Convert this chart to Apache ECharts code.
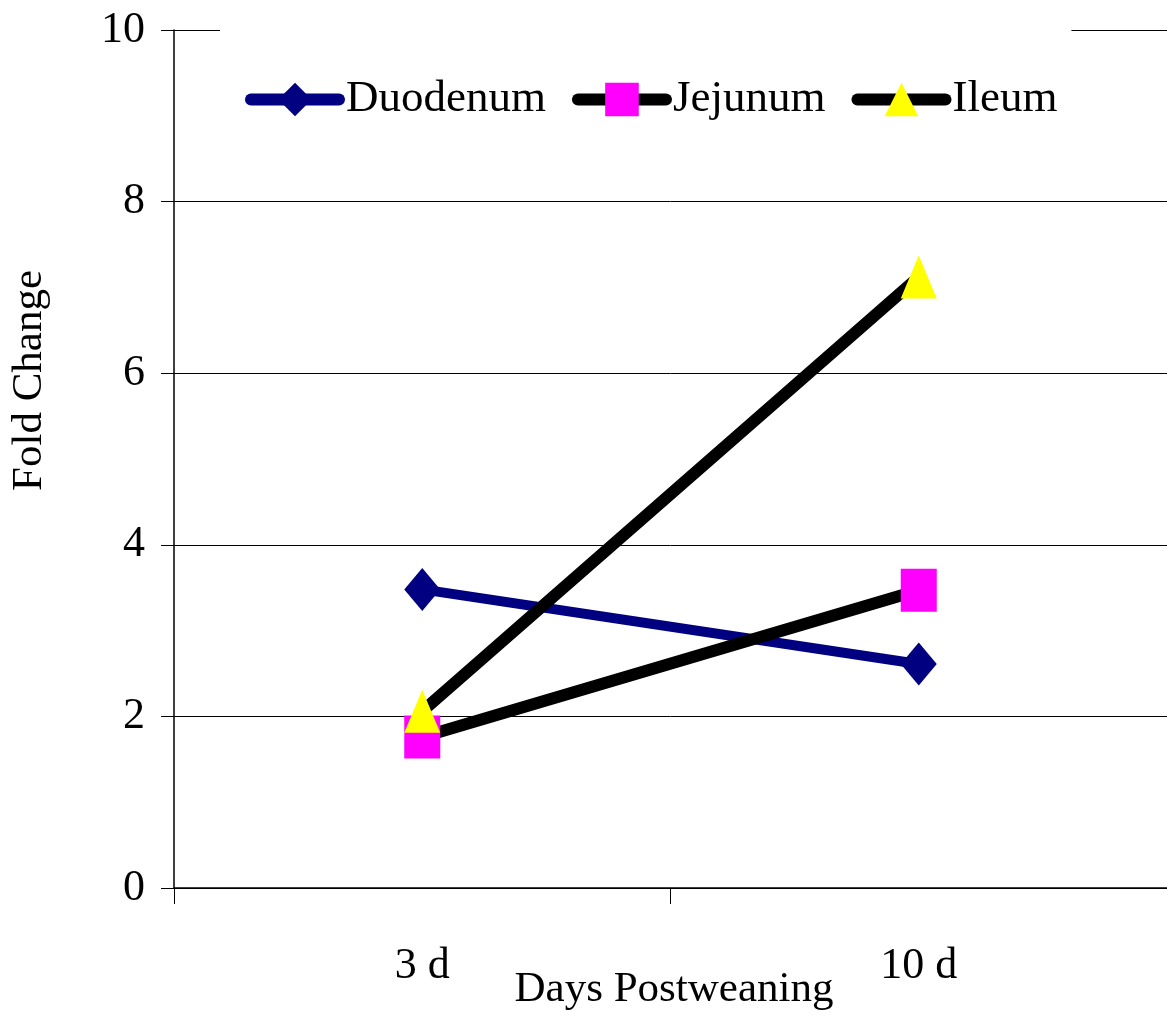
<!DOCTYPE html>
<html>
<head>
<meta charset="utf-8">
<script src="https://cdn.jsdelivr.net/npm/echarts@6/dist/echarts.min.js"></script>
<style>
html,body{margin:0;padding:0;background:#fff;}
#chart{width:1167px;height:1017px;}
</style>
</head>
<body>
<div id="chart"></div>
<script>
const categories = ['3 d', '10 d'];
const duodenum = [3.48, 2.61];
const jejunum = [1.76, 3.47];
const ileum = [2.06, 7.12];
const yTicks = [0, 2, 4, 6, 8, 10];
const xAxisName = 'Days Postweaning';
const yAxisName = 'Fold Change';

const FONT = '"Liberation Serif", "Times New Roman", serif';
const chart = echarts.init(document.getElementById('chart'));
chart.setOption({
  backgroundColor: '#fff',
  animation: false,
  grid: { left: 174, right: 0, top: 30, bottom: 129, containLabel: false, outerBoundsMode: 'none' },
  legend: {
    left: 220, top: 20,
    padding: [57, 14, 20, 25],
    backgroundColor: '#fff',
    itemWidth: 88, itemHeight: 42, itemGap: 26,
    lineStyle: { width: 12, cap: 'round' },
    textStyle: { fontFamily: FONT, fontSize: 45, color: '#000', padding: [0, 0, 0, 2] },
    data: ['Duodenum', 'Jejunum', 'Ileum']
  },
  xAxis: {
    type: 'category',
    data: categories,
    boundaryGap: true,
    axisLine: { lineStyle: { color: '#000', width: 1.5 } },
    axisTick: { show: true, length: 16, interval: 0, lineStyle: { color: '#000', width: 1 } },
    axisLabel: { fontFamily: FONT, fontSize: 44, color: '#000', margin: 56, interval: 0 }
  },
  yAxis: {
    type: 'value',
    min: 0, max: 10, interval: 2,
    axisLine: { show: true, lineStyle: { color: '#000', width: 1.5 } },
    axisTick: { show: true, length: 13, lineStyle: { color: '#000', width: 1 } },
    axisLabel: {
      fontFamily: FONT, fontSize: 44, color: '#000', margin: 29,
      formatter: v => (yTicks.indexOf(v) >= 0 ? String(v) : '')
    },
    splitLine: { show: true, lineStyle: { color: '#000', width: 1 } }
  },
  graphic: [{
    type: 'text',
    left: 8, top: 270,
    rotation: Math.PI / 2,
    originX: 0, originY: 0,
    style: { text: yAxisName, font: '43px ' + FONT, fill: '#000' }
  }, {
    type: 'text',
    x: 674, y: 990,
    style: { text: xAxisName, font: '43px ' + FONT, fill: '#000', textAlign: 'center', textVerticalAlign: 'middle' }
  }],
  series: [
    {
      name: 'Duodenum', type: 'line', data: duodenum,
      symbol: 'diamond', symbolSize: [36, 43],
      lineStyle: { color: '#000080', width: 10, cap: 'round' },
      itemStyle: { color: '#000080' }
    },
    {
      name: 'Jejunum', type: 'line', data: jejunum,
      symbol: 'rect', symbolSize: [36, 43],
      lineStyle: { color: '#000', width: 12, cap: 'round' },
      itemStyle: { color: '#FF00FF' }
    },
    {
      name: 'Ileum', type: 'line', data: ileum,
      symbol: 'triangle', symbolSize: [36, 43],
      lineStyle: { color: '#000', width: 12, cap: 'round' },
      itemStyle: { color: '#FFFF00' }
    }
  ]
});
</script>
</body>
</html>
